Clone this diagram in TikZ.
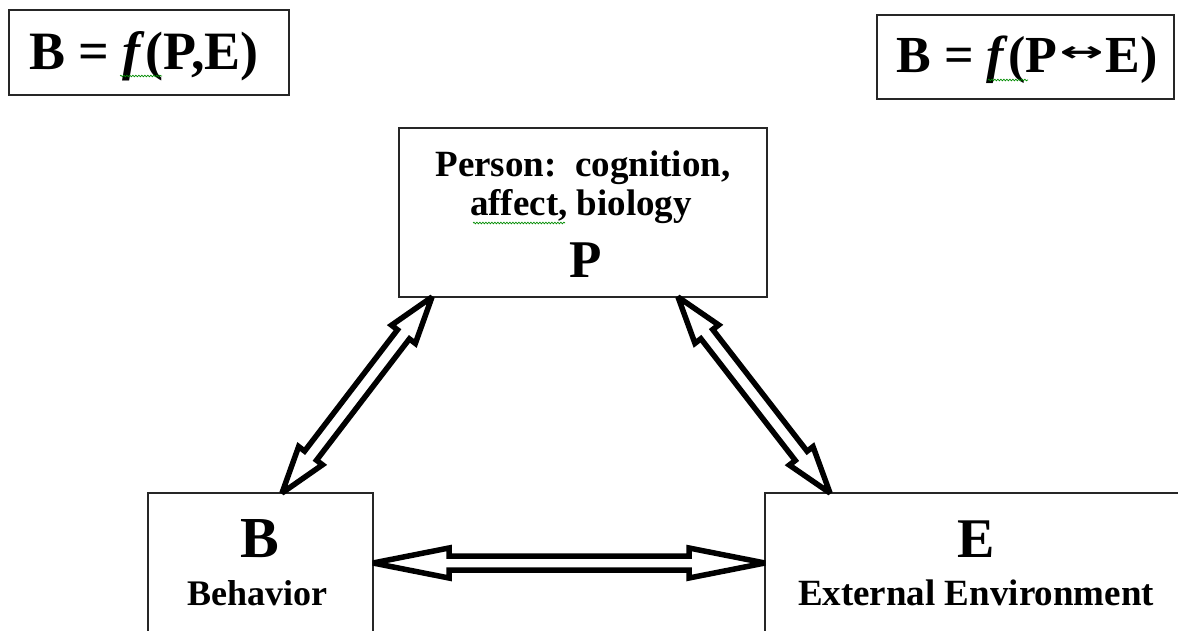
\documentclass[tikz,border=0pt]{standalone}
\usepackage{fontspec}
\usepackage{graphicx}
\setmainfont{Liberation Serif}
\newfontfamily\arrowfont{DejaVu Sans}
\usetikzlibrary{calc,decorations.pathmorphing}
\tikzset{
  box/.style={draw=black!85, line width=1.6pt, rectangle, inner sep=0pt, outer sep=0pt, fill=white},
  lbl/.style={anchor=base, inner sep=0pt, font=\bfseries\fontsize{#1}{#1}\selectfont},
  blockarr/.style={draw=black, line width=5.5pt, fill=white, line join=miter, miter limit=3},
  spell/.style={draw=green!55!black, line width=0.7pt, decorate, decoration={snake, amplitude=0.8pt, segment length=3pt}},
}
\newcommand{\blockarrow}[5]{%
  \draw[blockarr] (#1)
    -- ($(#1)!#3!(#2)!#4!90:(#2)$)
    -- ($(#1)!#3!(#2)!#5!90:(#2)$)
    -- ($(#2)!#3!(#1)!#5!-90:(#1)$)
    -- ($(#2)!#3!(#1)!#4!-90:(#1)$)
    -- (#2)
    -- ($(#2)!#3!(#1)!#4!90:(#1)$)
    -- ($(#2)!#3!(#1)!#5!90:(#1)$)
    -- ($(#1)!#3!(#2)!#5!-90:(#2)$)
    -- ($(#1)!#3!(#2)!#4!-90:(#2)$)
    -- cycle;}
\newcommand{\lrarrow}{\hspace{2pt}\raisebox{11pt}{\resizebox{44pt}{15pt}{\arrowfont\bfseries ↔}}\hspace{2pt}}
\begin{document}
\begin{tikzpicture}[x=1pt,y=-1pt]
\useasboundingbox (0,0) rectangle (1178,631);
\fill[white] (0,0) rectangle (1178,631);

% boxes
\node[box, minimum width=280pt, minimum height=85pt] (F1) at (149,52.5) {};
\node[box, minimum width=297pt, minimum height=84pt] (F2) at (1025.5,57) {};
\node[box, minimum width=368pt, minimum height=169pt] (P) at (583,212.5) {};
\node[box, minimum width=225pt, minimum height=207pt] (B) at (260.5,596.5) {};
\node[box, minimum width=422pt, minimum height=207pt] (E) at (976,596.5) {};

% texts
\node[lbl=54] (f1) at (144,70) {B = \textit{f}(P,E)};
\node[lbl=52] (f2) at (1027,73) {B = \textit{f}(P\lrarrow E)};
\node[lbl=37] (p1) at (583,177) {Person:\ \ cognition,};
\node[lbl=37] (p2) at (581,216) {affect, biology};
\node[lbl=53] (p3) at (586,277) {P};
\node[lbl=58] (b1) at (260,557) {B};
\node[lbl=36] (b2) at (257,605) {Behavior};
\node[lbl=56] (e1) at (976,557) {E};
\node[lbl=37] (e2) at (976,605) {External Environment};

% spell-check underlines
\draw[spell] (120,76) -- (162,76);
\draw[spell] (988,80) -- (1028,80);
\draw[spell] (473,223) -- (565,223);

% arrow end points
\coordinate (pl) at ($(P.south west)+(33,0)$);
\coordinate (bt) at ($(B.north)+(21.5,0)$);
\coordinate (pr) at ($(P.south east)+(-89,0)$);
\coordinate (et) at ($(E.north west)+(65,0)$);
\coordinate (br) at ($(B.north east)+(0,70)$);
\coordinate (el) at ($(E.north west)+(0,70)$);

\blockarrow{pl}{bt}{47pt}{15pt}{7.5pt}
\blockarrow{pr}{et}{47pt}{15pt}{7.5pt}
\blockarrow{br}{el}{76pt}{15pt}{7pt}
\end{tikzpicture}
\end{document}
